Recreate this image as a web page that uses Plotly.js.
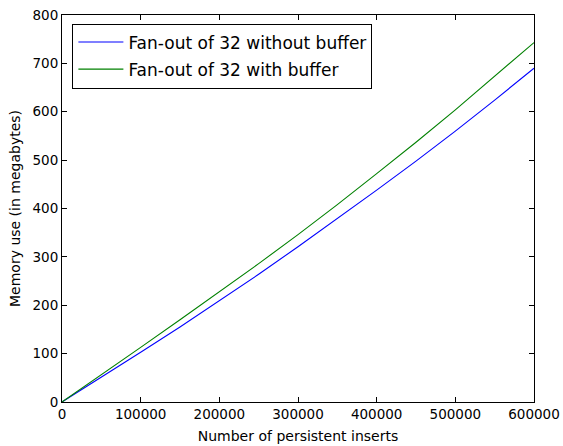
<!DOCTYPE html>
<html>
<head>
<meta charset="utf-8">
<script src="https://cdn.plot.ly/plotly-3.0.1.min.js"></script>
<style>html,body{margin:0;padding:0;background:#fff;}#chart{width:563px;height:446px;}</style>
</head>
<body>
<div id="chart"></div>
<script>
const inserts = [0, 50000, 100000, 150000, 200000, 250000, 300000, 350000, 400000, 450000, 500000, 550000, 600000];
const withoutBuffer = [0, 51, 103, 155, 209, 264, 321, 379, 438, 498, 560, 624, 690];
const withBuffer = [0, 56, 113, 170, 228, 286, 346, 408, 472, 537, 604, 673, 743];
const seriesNames = ["Fan-out of 32 without buffer", "Fan-out of 32 with buffer"];

const tickFont = {family: "DejaVu Sans", size: 13.5, color: "#000"};
const titleFont = {family: "DejaVu Sans", size: 14, color: "#000"};
const traces = [
  {x: inserts, y: withoutBuffer, mode: "lines", name: seriesNames[0], legendgroup: "a",
   line: {color: "#0000ff", width: 1.1}},
  {x: inserts, y: withBuffer, mode: "lines", name: seriesNames[1], legendgroup: "b",
   line: {color: "#008000", width: 1.1}}
];
const axisCommon = {
  showgrid: false, zeroline: false, showline: true, linecolor: "#000", linewidth: 1,
  mirror: "ticks", ticks: "inside", ticklen: 5, tickcolor: "#000", tickwidth: 1,
  tickfont: tickFont
};
const layout = {
  width: 563, height: 446,
  margin: {l: 62, r: 29, t: 15, b: 44},
  paper_bgcolor: "#fff", plot_bgcolor: "#fff",
  font: tickFont,
  showlegend: true,
  legend: {
    x: 0.022, y: 0.978, xanchor: "left", yanchor: "top",
    bordercolor: "#000", borderwidth: 1, bgcolor: "#fff",
    font: {family: "DejaVu Sans", size: 17, color: "#000"},
    tracegroupgap: 2, itemwidth: 45
  },
  xaxis: Object.assign({}, axisCommon, {
    range: [0, 600000], dtick: 100000, tick0: 0, tickformat: "d",
    title: {text: "Number of persistent inserts", font: titleFont, standoff: 9}
  }),
  yaxis: Object.assign({}, axisCommon, {
    range: [0, 800], dtick: 100, tick0: 0,
    title: {text: "Memory use (in megabytes)", font: titleFont, standoff: 8}
  })
};
Plotly.newPlot("chart", traces, layout, {displayModeBar: false, staticPlot: true});
</script>
</body>
</html>
